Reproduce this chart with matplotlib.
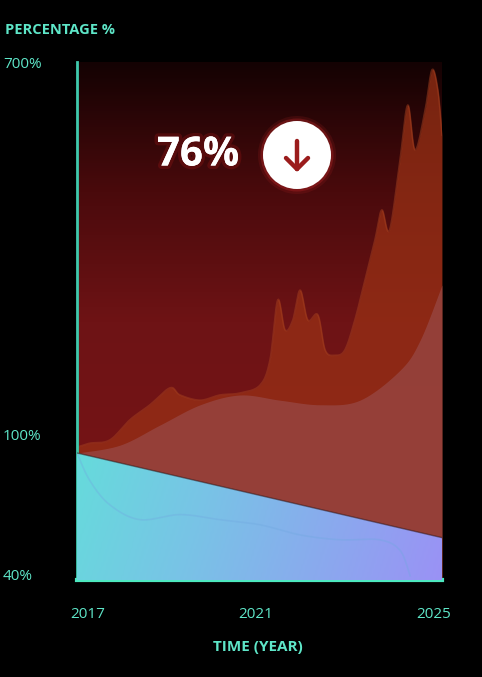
import numpy as np
import matplotlib.pyplot as plt
from matplotlib.scale import FuncScale
from matplotlib.patches import Circle
from matplotlib.lines import Line2D
from matplotlib.colors import LinearSegmentedColormap
import matplotlib.patheffects as pe

# spiky red series
red_years = [2017.0, 2017.28, 2017.72, 2018.16, 2018.6, 2019.04, 2019.26, 2019.7, 2020.13,
             2020.57, 2021.01, 2021.23, 2021.4, 2021.56, 2021.73, 2021.89, 2022.06, 2022.28,
             2022.44, 2022.65, 2022.87, 2023.09, 2023.31, 2023.53, 2023.68, 2023.85, 2024.08,
             2024.25, 2024.41, 2024.63, 2024.78, 2024.91, 2025.0]
red_vals = [109, 115, 120, 151, 174, 200, 189, 181, 189, 192, 204, 243, 335, 289, 304, 350,
            304, 312, 258, 250, 258, 304, 365, 427, 473, 442, 550, 634, 565, 626, 688, 657, 588]
# smooth pink series
pink_years = [2017, 2017.94, 2018.82, 2019.7, 2020.57, 2021.45, 2022.33, 2023.2, 2024.08, 2024.52, 2025]
pink_vals = [100, 112, 143, 174, 189, 181, 174, 181, 227, 273, 358]
# straight decline
line_years = [2017, 2025]
line_vals = [100, 60]
# faint wave inside the cyan area
wave_years = [2017, 2017.28, 2017.72, 2018.38, 2019.26, 2020.13, 2021.01, 2021.89, 2022.76, 2023.63, 2024.08, 2024.3]
wave_vals = [100, 87, 75.5, 68.5, 70.9, 68.5, 66.1, 61.3, 59, 59, 54, 42]


def smooth(xs, ys, n=12):
    # catmull-rom through the points, for drawing only
    xs, ys = np.asarray(xs, float), np.asarray(ys, float)
    px = np.r_[xs[0], xs, xs[-1]]
    py = np.r_[ys[0], ys, ys[-1]]
    ox, oy = [], []
    t = np.linspace(0, 1, n, endpoint=False)
    for i in range(1, len(px) - 2):
        for p, o in ((px, ox), (py, oy)):
            p0, p1, p2, p3 = p[i - 1:i + 3]
            o.extend(0.5 * (2 * p1 + (-p0 + p2) * t + (2 * p0 - 5 * p1 + 4 * p2 - p3) * t ** 2
                            + (-p0 + 3 * p1 - 3 * p2 + p3) * t ** 3))
    ox.append(xs[-1]); oy.append(ys[-1])
    return np.array(ox), np.array(oy)


knots_v = [40, 100, 700]
knots_p = [0, 127, 518]
fwd = lambda v: np.interp(v, knots_v, knots_p)
inv = lambda p: np.interp(p, knots_p, knots_v)

W, H = 482, 677
fig = plt.figure(figsize=(W / 100, H / 100), dpi=100, facecolor='black')
ax = fig.add_axes([77 / W, (H - 580) / H, (442 - 77) / W, (580 - 62) / H])
ax.set_facecolor('black')
ax.set_yscale(FuncScale(ax, (fwd, inv)))
ax.set_xlim(2017, 2025)
ax.set_ylim(40, 700)

grad = np.linspace(0, 1, 256)[:, None]
bg = LinearSegmentedColormap.from_list('bg', ['#140203', '#4a0a0c', '#6e1315', '#741416', '#741416'])
ax.imshow(grad, cmap=bg, aspect='auto', extent=[0, 1, 0, 1], transform=ax.transAxes, zorder=0)

rx, ry = smooth(red_years, red_vals)
ax.fill_between(rx, ry, 40, color='#983015', alpha=0.75, lw=0, zorder=1)
ax.plot(rx, ry, color='#a5401f', lw=1.2, alpha=0.5, zorder=1)
kx, ky = smooth(pink_years, pink_vals)
ax.fill_between(kx, ky, 40, color='#9a5050', alpha=0.6, lw=0, zorder=2)

poly = ax.fill_between(line_years, line_vals, 40, color='none', lw=0, zorder=3)
cg = LinearSegmentedColormap.from_list('cg', ['#55f0d2', '#78c4e6', '#9a92f5'])
xx, yy = np.meshgrid(np.linspace(0, 1, 200), np.linspace(0, 1, 200))
img = ax.imshow(xx * 0.75 + yy * 0.35, cmap=cg, aspect='auto', extent=[0, 1, 0, 1],
                transform=ax.transAxes, zorder=3, origin='upper')
img.set_clip_path(poly.get_paths()[0], transform=ax.transData)
wx, wy = smooth(wave_years, wave_vals)
ax.plot(wx, wy, color='#70a8e0', lw=1.2, alpha=0.35, zorder=4)
ax.plot(line_years, line_vals, color='#2a1010', lw=1, alpha=0.5, zorder=4)

for s in ['top', 'right']:
    ax.spines[s].set_visible(False)
ax.spines['bottom'].set_color('#4de8c0')
ax.spines['bottom'].set_linewidth(3)
ax.spines['left'].set_color('#3fc9ad')
ax.spines['left'].set_linewidth(2)
ax.set_xticks([])
ax.set_yticks([])
ax.minorticks_off()

tc = '#5ee6c8'
fnt = 'Open Sans'
fig.text(5 / W, 1 - 30 / H, 'PERCENTAGE %', color=tc, fontsize=10.5, fontweight='bold',
         va='center', family=fnt)
for lab, py in [('700%', 65), ('100%', 436), ('40%', 576)]:
    fig.text(3 / W, 1 - py / H, lab, color=tc, fontsize=11, va='center', family=fnt)
for lab, px in [('2017', 88), ('2021', 256), ('2025', 434)]:
    fig.text(px / W, 1 - 614 / H, lab, color=tc, fontsize=11, va='center', ha='center', family=fnt)
fig.text(258 / W, 1 - 647 / H, 'TIME (YEAR)', color=tc, fontsize=11, fontweight='bold',
         va='center', ha='center', family=fnt)

glow = [pe.withStroke(linewidth=5, foreground='#b01818', alpha=0.25), pe.Normal()]
fig.text(198 / W, 1 - 155 / H, '76%', color='white', fontsize=29, fontweight='bold',
         va='center', ha='center', family=fnt, path_effects=glow)
cx, cy, r = 297, 155, 34
# pixel-space circle so it stays round
for rr, a in [(r + 5, 0.12), (r + 2.5, 0.25)]:
    fig.add_artist(Circle((cx, H - cy), rr, transform=None, facecolor='#e03030',
                          edgecolor='none', alpha=a, zorder=9))
fig.add_artist(Circle((cx, H - cy), r, transform=None, facecolor='white',
                      edgecolor='none', zorder=10))
ac = '#9b1c1c'
seg = [((cx, cx), (H - cy - 14, H - cy + 14)), ((cx - 11, cx), (H - cy - 3, H - cy - 14)),
       ((cx + 11, cx), (H - cy - 3, H - cy - 14))]
for xs, ys in seg:
    fig.add_artist(Line2D([x / W for x in xs], [y / H for y in ys], transform=fig.transFigure,
                          color=ac, lw=3.2, solid_capstyle='round', zorder=11))

fig.savefig('out.png', dpi=100, facecolor='black')
